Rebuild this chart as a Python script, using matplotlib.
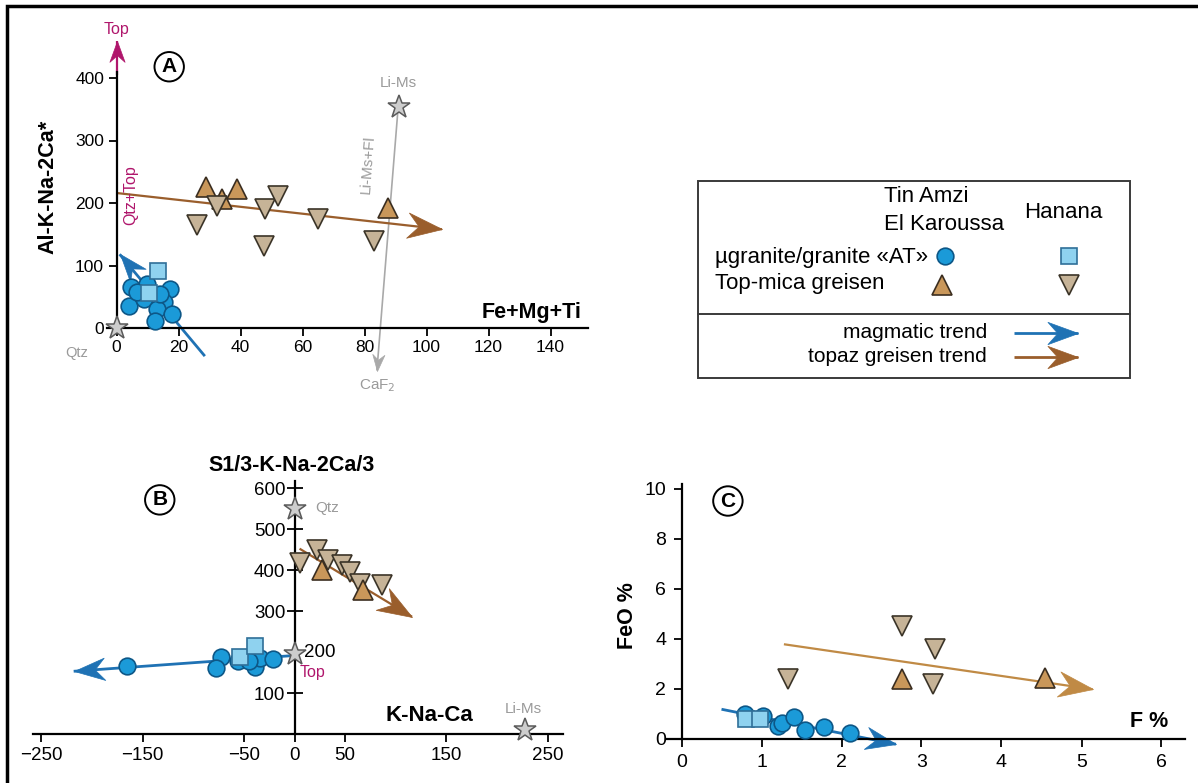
import matplotlib
matplotlib.use('Agg')
import numpy as np
import matplotlib.pyplot as plt
from matplotlib.patches import Rectangle
from matplotlib.path import Path
from matplotlib.markers import MarkerStyle
from matplotlib.transforms import Affine2D

plt.rcParams['font.family'] = ['Liberation Sans', 'DejaVu Sans']

# ---- panel A : Al-K-Na-2Ca* vs Fe+Mg+Ti
A_circ_x = [4.6, 4.0, 8.9, 9.9, 17.3, 15.3, 13.0, 17.8, 12.4, 14.0, 6.7]
A_circ_y = [65, 36, 46, 71, 62, 42, 30, 23, 12, 55, 58]
A_sq_x = [13.3, 10.6]
A_sq_y = [92, 56]
A_up_x = [29, 39, 34, 87.5]
A_up_y = [226, 222, 206, 192]
A_dn_x = [26, 32.5, 48, 52, 47.5, 65, 83]
A_dn_y = [165, 195, 190, 212, 131, 174, 139]
A_star_x = [0, 91]
A_star_y = [0, 353]
A_topaz = ([0, 105], [216, 158])
A_magma = ([28.5, 1], [-45, 118])
A_fluor = ([91, 84], [362, -68])

# ---- panel B : S1/3-K-Na-2Ca/3 vs K-Na-Ca
B_circ_x = [-165, -73, -77, -56, -39, -34, -21, -45]
B_circ_y = [166, 187, 161, 178, 164, 186, 183, 178]
B_sq_x = [-54, -39]
B_sq_y = [188, 215]
B_up_x = [27, 68]
B_up_y = [400, 351]
B_dn_x = [5, 22, 33, 47, 55, 65, 86]
B_dn_y = [416, 449, 424, 412, 396, 367, 363]
B_star_x = [0, 0, 228]
B_star_y = [550, 195, 10]
B_topaz = ([5, 116], [452, 286])
B_magma = ([-3, -218], [191, 153])

# ---- panel C : FeO % vs F %
C_circ_x = [0.79, 1.02, 1.2, 1.25, 1.4, 1.54, 1.78, 2.1]
C_circ_y = [0.97, 0.9, 0.5, 0.64, 0.88, 0.33, 0.47, 0.21]
C_sq_x = [0.8, 0.98]
C_sq_y = [0.77, 0.77]
C_up_x = [2.76, 4.55]
C_up_y = [2.37, 2.44]
C_dn_x = [1.33, 2.76, 3.17, 3.15]
C_dn_y = [2.4, 4.5, 3.57, 2.17]
C_topaz = ([1.28, 5.14], [3.77, 1.97])
C_magma = ([0.5, 2.68], [1.17, -0.23])

STY = {
    'circ': dict(marker='o', ms=12, mfc='#1b9ad8', mec='#0d5787', mew=1.2),
    'sq': dict(marker='s', ms=11, mfc='#8fd2ef', mec='#2f6f98', mew=1.2),
    'up': dict(marker='^', ms=15, mfc='#c9975a', mec='#3b2e20', mew=1.2),
    'dn': dict(marker='v', ms=15, mfc='#c6b397', mec='#3b3428', mew=1.2),
    'star': dict(marker='*', ms=17, mfc='#cdcdcd', mec='#5a5a5a', mew=1.1),
}
BLUE = '#1f72b4'
BROWN = '#9a5e2c'
MAG = '#b0166c'
GREY = '#9a9a9a'

# stealth-type arrow head, tip at the origin
HEAD = Path([(0, 0), (-1.7, 0.62), (-1.15, 0), (-1.7, -0.62), (0, 0)],
            [Path.MOVETO, Path.LINETO, Path.LINETO, Path.LINETO, Path.CLOSEPOLY])

W, H = 1198, 783
fig = plt.figure(figsize=(W / 100, H / 100), dpi=100)

# full-figure layer for the frame and the key
ax0 = fig.add_axes([0, 0, 1, 1])
ax0.set_xlim(0, W)
ax0.set_ylim(H, 0)
ax0.axis('off')
ax0.plot([7, 7, W], [H, 6, 6], color='black', lw=2.5, solid_joinstyle='miter')


def place(x0, y0, sx, sy, xlim, ylim):
    left = x0 + xlim[0] * sx
    right = x0 + xlim[1] * sx
    bot = y0 - ylim[0] * sy
    top = y0 - ylim[1] * sy
    ax = fig.add_axes([left / W, 1 - bot / H, (right - left) / W, (bot - top) / H])
    ax.set_xlim(xlim)
    ax.set_ylim(ylim)
    ax.patch.set_alpha(0)
    for s in ('top', 'right'):
        ax.spines[s].set_visible(False)
    for s in ('left', 'bottom'):
        ax.spines[s].set_position(('data', 0))
        ax.spines[s].set_linewidth(1.6)
    return ax


def pts(ax, x, y, key, z=3):
    ax.plot(x, y, ls='none', zorder=z, clip_on=False, **STY[key])


def arrow(ax, xy, color, lw=1.8, size=44, z=2):
    (x0, x1), (y0, y1) = xy
    p0 = ax.transData.transform((x0, y0))
    p1 = ax.transData.transform((x1, y1))
    ang = np.degrees(np.arctan2(p1[1] - p0[1], p1[0] - p0[0]))
    ax.plot([x0, x1], [y0, y1], color=color, lw=lw, zorder=z, clip_on=False,
            solid_capstyle='butt')
    head = MarkerStyle(HEAD, transform=Affine2D().rotate_deg(ang))
    ax.plot([x1], [y1], ls='none', marker=head, ms=size, mfc=color, mec=color,
            mew=0.5, zorder=z, clip_on=False)


def badge(ax, x, y, s):
    ax.text(x, y, s, ha='center', va='center', fontsize=15, fontweight='bold',
            bbox=dict(boxstyle='circle,pad=0.25', fc='white', ec='black', lw=1.4))


# ---------------- A
axA = place(116.5, 328, 3.1, 0.625, (-30, 175), (-150, 500))
axA.spines['bottom'].set_bounds(-3, 152)
axA.spines['left'].set_bounds(0, 410)
axA.set_xticks(range(0, 141, 20))
axA.set_yticks(range(0, 401, 100))
axA.tick_params(direction='out', length=6, width=1.3, labelsize=12.5, pad=3)
arrow(axA, ([0, 0], [405, 460]), MAG, lw=1.6, size=30)
axA.text(0, 478, 'Top', color=MAG, ha='center', va='center', fontsize=11.5)
arrow(axA, A_fluor, '#a9a9a9', lw=1.2, size=24)
arrow(axA, A_topaz, BROWN, lw=1.6, size=50)
arrow(axA, A_magma, BLUE, lw=2.0, size=40)
pts(axA, A_circ_x, A_circ_y, 'circ')
pts(axA, A_sq_x, A_sq_y, 'sq', 4)
pts(axA, A_up_x, A_up_y, 'up')
pts(axA, A_dn_x, A_dn_y, 'dn', 4)
pts(axA, A_star_x, A_star_y, 'star', 5)
axA.text(-9, -40, 'Qtz', color=GREY, ha='right', va='center', fontsize=10.5)
axA.text(91, 392, 'Li-Ms', color=GREY, ha='center', va='center', fontsize=11)
axA.text(84, -92, 'CaF$_2$', color=GREY, ha='center', va='center', fontsize=11)
axA.text(81, 262, 'Li-Ms+Fl', color=GREY, ha='center', va='center', fontsize=11,
         rotation=86)
axA.text(4.6, 212, 'Qtz+Top', color=MAG, ha='center', va='center', fontsize=11.5,
         rotation=90)
axA.text(150, 8, 'Fe+Mg+Ti', ha='right', va='bottom', fontsize=15.5, fontweight='bold')
axA.text(-22, 225, 'Al-K-Na-2Ca*', ha='center', va='center', fontsize=15.5,
         fontweight='bold', rotation=90)
badge(axA, 17, 418, 'A')

# ---------------- B
axB = place(294.5, 734, 1.013, 0.41, (-290, 275), (-120, 700))
axB.spines['bottom'].set_bounds(-258, 265)
axB.spines['left'].set_bounds(0, 618)
axB.set_xticks([-250, -150, -50, 0, 50, 150, 250])
axB.set_yticks([100, 200, 300, 400, 500, 600])
axB.set_yticklabels(['100', '', '300', '400', '500', '600'])
axB.tick_params(axis='x', direction='out', length=6, width=1.3, labelsize=13.5, pad=3)
axB.tick_params(axis='y', direction='inout', length=11, width=1.3, labelsize=13.5, pad=1)
arrow(axB, B_topaz, BROWN, lw=1.6, size=50)
arrow(axB, B_magma, BLUE, lw=2.0, size=44)
pts(axB, B_circ_x, B_circ_y, 'circ')
pts(axB, B_sq_x, B_sq_y, 'sq', 4)
pts(axB, B_dn_x, B_dn_y, 'dn')
pts(axB, B_up_x, B_up_y, 'up', 4)
pts(axB, B_star_x, B_star_y, 'star', 5)
axB.text(9, 200, '200', ha='left', va='center', fontsize=13.5)
axB.text(18, 150, 'Top', color=MAG, ha='center', va='center', fontsize=11.5)
axB.text(20, 552, 'Qtz', color=GREY, ha='left', va='center', fontsize=11)
axB.text(226, 62, 'Li-Ms', color=GREY, ha='center', va='center', fontsize=11)
axB.text(133, 45, 'K-Na-Ca', ha='center', va='center', fontsize=16, fontweight='bold')
axB.text(-3, 656, 'S1/3-K-Na-2Ca/3', ha='center', va='center', fontsize=15.5,
         fontweight='bold')
badge(axB, -133, 571, 'B')

# ---------------- C
axC = place(681.5, 738.5, 80, 25, (-1.2, 6.45), (-1.8, 11.5))
axC.spines['bottom'].set_bounds(-0.2, 6.3)
axC.spines['left'].set_bounds(0, 10.2)
axC.set_xticks(range(0, 7))
axC.set_yticks(range(0, 11, 2))
axC.tick_params(direction='out', length=6, width=1.3, labelsize=14, pad=5)
arrow(axC, C_topaz, '#c08a45', lw=1.6, size=50)
arrow(axC, C_magma, BLUE, lw=2.0, size=44)
pts(axC, C_circ_x, C_circ_y, 'circ')
pts(axC, C_sq_x, C_sq_y, 'sq', 4)
pts(axC, C_dn_x, C_dn_y, 'dn')
pts(axC, C_up_x, C_up_y, 'up')
axC.text(5.85, 0.68, 'F %', ha='center', va='center', fontsize=15.5, fontweight='bold')
axC.text(-0.68, 4.9, 'FeO %', ha='center', va='center', fontsize=15.5,
         fontweight='bold', rotation=90)
badge(axC, 0.58, 9.5, 'C')

# ---------------- key
ax0.add_patch(Rectangle((698, 181), 432, 197, fill=False, ec='#3a3a3a', lw=1.4))
ax0.plot([698, 1130], [314, 314], color='#3a3a3a', lw=1.4)
kf = 16
ax0.text(884, 197, 'Tin Amzi', ha='left', va='center', fontsize=kf)
ax0.text(884, 224, 'El Karoussa', ha='left', va='center', fontsize=kf)
ax0.text(1063, 213, 'Hanana', ha='center', va='center', fontsize=kf)
ax0.text(715, 258, 'µgranite/granite «AT»', ha='left', va='center', fontsize=kf)
ax0.text(715, 284, 'Top-mica greisen', ha='left', va='center', fontsize=kf)
ax0.plot([945], [256], ls='none', **STY['circ'])
ax0.plot([1069], [256], ls='none', **STY['sq'])
ax0.plot([942], [285], ls='none', **STY['up'])
ax0.plot([1069], [285], ls='none', **STY['dn'])
ax0.text(987, 333, 'magmatic trend', ha='right', va='center', fontsize=15)
ax0.text(987, 357, 'topaz greisen trend', ha='right', va='center', fontsize=15)
arrow(ax0, ([1014, 1078], [333, 333]), BLUE, lw=2.0, size=44)
arrow(ax0, ([1014, 1078], [357, 357]), BROWN, lw=2.0, size=44)

fig.savefig('out.png', dpi=100)
